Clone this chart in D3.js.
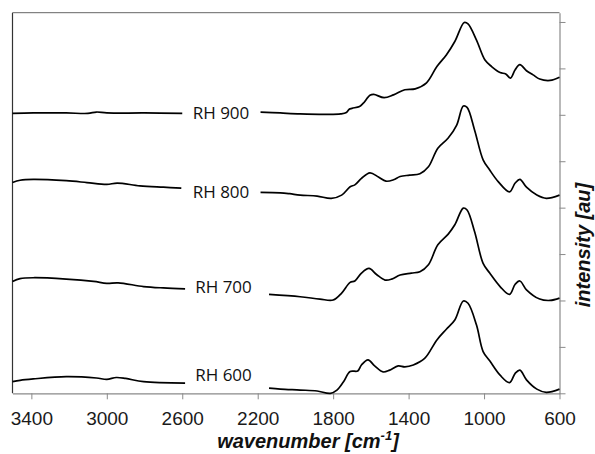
<!DOCTYPE html>
<html>
<head>
<meta charset="utf-8">
<script src="https://cdn.jsdelivr.net/npm/d3@7"></script>
<style>
  body { margin: 0; background: #fff; }
  svg { display: block; }
</style>
</head>
<body>
<div id="chart"></div>
<script>
// spectra: [wavenumber, intensity], null marks the gap for the label
const rh900 = [[3500,6.03],[3390,6.04],[3215,6.04],[3100,6.03],[3055,6.06],[3000,6.04],[2800,6.04],[2600,6.03],
  [2400,null],
  [2185,6.06],[2080,6.04],[1975,6.02],[1835,6.01],[1760,6.02],[1730,6.05],[1715,6.12],[1700,6.14],[1660,6.18],[1640,6.25],[1605,6.42],[1585,6.44],[1530,6.37],[1480,6.43],[1420,6.54],[1365,6.56],[1305,6.69],[1250,7.04],[1200,7.29],[1155,7.58],[1105,7.99],[1085,7.96],[1040,7.61],[995,7.18],[960,7.04],[915,6.91],[885,6.88],[860,6.79],[835,6.97],[810,7.08],[775,6.95],[740,6.86],[705,6.77],[650,6.74],[600,6.81]];

const rh800 = [[3500,4.54],[3460,4.59],[3390,4.61],[3215,4.58],[3105,4.54],[3000,4.50],[2945,4.53],[2825,4.47],[2700,4.44],[2605,4.42],
  [2400,null],
  [2185,4.33],[2080,4.32],[2030,4.30],[1975,4.27],[1885,4.25],[1810,4.20],[1755,4.27],[1710,4.45],[1685,4.49],[1650,4.63],[1605,4.75],[1560,4.66],[1520,4.57],[1480,4.60],[1445,4.67],[1395,4.70],[1340,4.73],[1295,4.88],[1245,5.28],[1190,5.50],[1145,5.78],[1110,6.19],[1090,6.16],[1050,5.67],[1005,5.03],[970,4.81],[925,4.56],[865,4.34],[835,4.53],[810,4.61],[775,4.44],[720,4.27],[670,4.20],[600,4.27]];

const rh700 = [[3500,2.41],[3460,2.47],[3390,2.49],[3215,2.46],[3070,2.41],[3000,2.37],[2940,2.38],[2805,2.30],[2700,2.27],[2585,2.25],
  [2400,null],
  [2140,2.13],[1975,2.08],[1870,2.03],[1800,2.01],[1755,2.16],[1710,2.39],[1685,2.42],[1650,2.59],[1610,2.69],[1570,2.56],[1525,2.44],[1490,2.46],[1445,2.55],[1385,2.59],[1340,2.62],[1295,2.77],[1245,3.20],[1190,3.43],[1155,3.63],[1110,3.99],[1090,3.95],[1050,3.48],[1005,2.80],[970,2.59],[915,2.30],[865,2.13],[835,2.35],[810,2.42],[775,2.23],[705,2.03],[650,2.00],[600,2.05]];

const rh600 = [[3500,0.25],[3460,0.28],[3390,0.31],[3215,0.36],[3055,0.33],[3000,0.30],[2950,0.34],[2900,0.32],[2805,0.25],[2585,0.22],
  [2400,null],
  [2140,0.11],[2080,0.09],[1975,0.07],[1885,0.05],[1815,0.00],[1780,0.07],[1745,0.25],[1710,0.47],[1670,0.48],[1650,0.61],[1615,0.72],[1580,0.59],[1535,0.46],[1500,0.50],[1455,0.59],[1420,0.57],[1375,0.61],[1315,0.75],[1250,1.15],[1200,1.38],[1155,1.58],[1110,1.99],[1085,1.94],[1040,1.47],[1005,0.90],[970,0.70],[915,0.39],[865,0.23],[835,0.43],[810,0.50],[775,0.29],[720,0.09],[670,0.02],[600,0.09]];

const seriesNames = ["RH 900", "RH 800", "RH 700", "RH 600"];
const xTicks = [3400, 3000, 2600, 2200, 1800, 1400, 1000, 600];
const yTicks = [0, 1, 2, 3, 4, 5, 6, 7, 8];

const width = 595, height = 454;

const svg = d3.select("#chart").append("svg")
  .attr("width", width)
  .attr("height", height);

const x = d3.scaleLinear().domain([3500, 600]).range([12.5, 559.5]);
const y = d3.scaleLinear().domain([0, 8.2]).range([393.3, 12.7]);

// frame: left and top lines
svg.append("line")
  .attr("x1", x(3500)).attr("x2", x(3500))
  .attr("y1", y(8.2)).attr("y2", y(0))
  .attr("stroke", "#333").attr("stroke-width", 1.2);
svg.append("line")
  .attr("x1", x(3500)).attr("x2", x(600))
  .attr("y1", y(8.2)).attr("y2", y(8.2))
  .attr("stroke", "#666").attr("stroke-width", 1);

// bottom axis
const gx = svg.append("g")
  .attr("transform", `translate(0,${y(0)})`)
  .call(d3.axisBottom(x).tickValues(xTicks).tickSize(6).tickSizeOuter(0).tickPadding(12).tickFormat(d3.format("d")));
gx.select(".domain").attr("stroke", "#8a8a8a").attr("stroke-width", 1.2);
gx.selectAll(".tick line").attr("stroke", "#8a8a8a");
gx.selectAll(".tick text")
  .attr("fill", "#1a1a1a")
  .style("font-family", "'Liberation Sans', Arial, sans-serif")
  .style("font-size", "19px");

// right axis, ticks only
const gy = svg.append("g")
  .attr("transform", `translate(${x(600)},0)`)
  .call(d3.axisRight(y).tickValues(yTicks).tickSize(6).tickSizeOuter(0).tickFormat(""));
gy.select(".domain").attr("stroke", "#8a8a8a").attr("stroke-width", 1.2);
gy.selectAll(".tick line").attr("stroke", "#8a8a8a");

// spectra
const line = d3.line()
  .defined(d => d[1] != null)
  .x(d => x(d[0]))
  .y(d => y(d[1]))
  .curve(d3.curveCatmullRom.alpha(0.5));

const spectra = [rh900, rh800, rh700, rh600];

svg.append("g")
  .selectAll("path")
  .data(spectra)
  .join("path")
  .attr("fill", "none")
  .attr("stroke", "#000")
  .attr("stroke-width", 1.7)
  .attr("stroke-linejoin", "round")
  .attr("d", line);

// labels sitting in the gaps
const labelPos = [[221, 118.5], [221, 197.7], [223.5, 293.3], [223.5, 381]];
svg.append("g")
  .selectAll("text")
  .data(seriesNames)
  .join("text")
  .attr("x", (d, i) => labelPos[i][0])
  .attr("y", (d, i) => labelPos[i][1])
  .attr("text-anchor", "middle")
  .style("font-family", "'Open Sans', sans-serif")
  .style("font-size", "17px")
  .attr("fill", "#111")
  .text(d => d);

// axis titles
const xt = svg.append("text")
  .attr("x", 308)
  .attr("y", 448.3)
  .attr("text-anchor", "middle")
  .style("font-family", "'Liberation Sans', Arial, sans-serif")
  .style("font-size", "20px")
  .style("font-weight", "bold")
  .style("font-style", "italic")
  .attr("fill", "#111");
xt.append("tspan").text("wavenumber [cm");
xt.append("tspan").attr("dy", -8).style("font-size", "13px").text("-1");
xt.append("tspan").attr("dy", 8).text("]");

svg.append("text")
  .attr("transform", "translate(590,245) rotate(-90)")
  .attr("text-anchor", "middle")
  .style("font-family", "'Liberation Sans', Arial, sans-serif")
  .style("font-size", "20px")
  .style("font-weight", "bold")
  .style("font-style", "italic")
  .attr("fill", "#111")
  .text("intensity [au]");
</script>
</body>
</html>
